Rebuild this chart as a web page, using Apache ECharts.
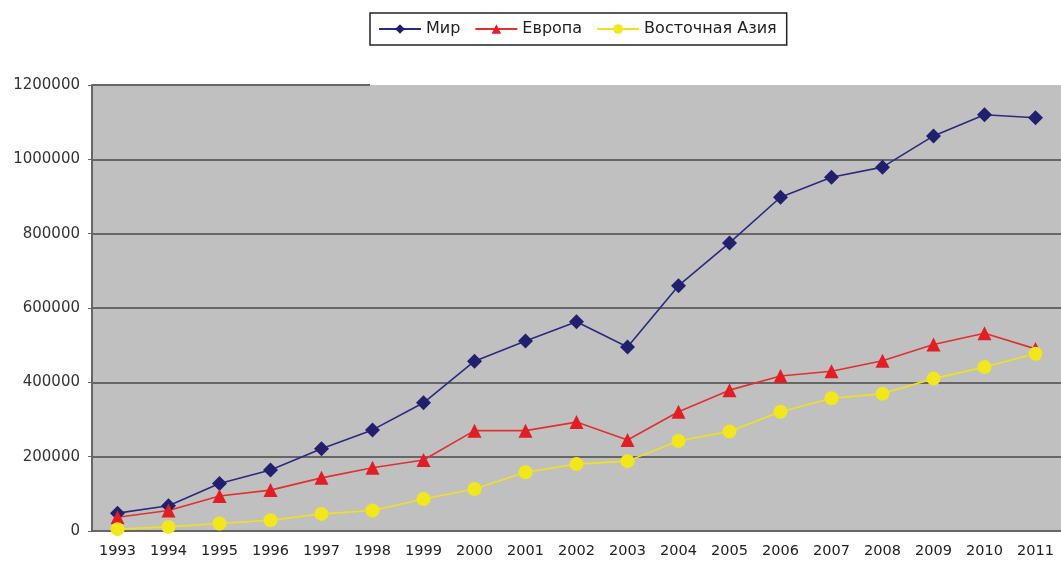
<!DOCTYPE html>
<html>
<head>
<meta charset="utf-8" />
<title>Мир / Европа / Восточная Азия</title>
<script src="https://cdn.jsdelivr.net/npm/echarts@6/dist/echarts.min.js"></script>
<style>
  html, body { margin: 0; padding: 0; background: #fff; }
  #chart { width: 1061px; height: 564px; }
</style>
</head>
<body>
<div id="chart"></div>
<script>
// годы
var years = ['1993', '1994', '1995', '1996', '1997', '1998', '1999', '2000', '2001', '2002',
  '2003', '2004', '2005', '2006', '2007', '2008', '2009', '2010', '2011'];

// значения по рядам
var mir = [48000, 68000, 128000, 164000, 221000, 272000, 345000, 457000, 511000, 563000,
  495000, 660000, 775000, 898000, 952000, 979000, 1063000, 1120000, 1112000];
var evropa = [37000, 55000, 94000, 110000, 143000, 170000, 191000, 270000, 270000, 293000,
  245000, 321000, 379000, 417000, 430000, 458000, 502000, 532000, 490000];
var vostAziya = [5000, 11000, 20000, 29000, 46000, 55000, 86000, 113000, 158000, 180000,
  188000, 242000, 268000, 321000, 357000, 369000, 410000, 441000, 477000];

var yTicks = [0, 200000, 400000, 600000, 800000, 1000000, 1200000];

var font = '"DejaVu Sans", Verdana, sans-serif';
var chart = echarts.init(document.getElementById('chart'));

var option = {
  animation: false,
  legend: {
    left: 370,
    top: 13,
    padding: [8, 10, 8, 8],
    itemGap: 14,
    itemWidth: 42,
    itemHeight: 12,
    borderColor: '#222',
    borderWidth: 1.5,
    backgroundColor: '#fff',
    textStyle: { fontFamily: font, fontSize: 16, color: '#222' },
    data: ['Мир', 'Европа', 'Восточная Азия']
  },
  grid: {
    left: 92,
    top: 85,
    bottom: 33,
    right: -6,
    show: true,
    backgroundColor: '#c0c0c0',
    borderWidth: 0
  },
  xAxis: {
    type: 'category',
    data: years,
    boundaryGap: true,
    axisLine: { lineStyle: { color: '#666', width: 2 } },
    axisTick: { length: 4, lineStyle: { color: '#666', width: 1 } },
    axisLabel: { fontFamily: font, fontSize: 14.5, color: '#222', margin: 13 }
  },
  yAxis: {
    type: 'value',
    min: yTicks[0],
    max: yTicks[yTicks.length - 1],
    interval: 200000,
    axisLine: { show: true, lineStyle: { color: '#666', width: 2 } },
    axisTick: { show: true, length: 4, lineStyle: { color: '#666', width: 1 } },
    axisLabel: {
      fontFamily: font, fontSize: 15, color: '#333', margin: 12,
      formatter: function (v) { return String(v); }
    },
    splitLine: {
      show: true,
      lineStyle: {
        width: 2,
        // верхняя линия сетки рисуется отдельно (только частично)
        color: ['transparent', '#666', '#666', '#666', '#666', '#666', 'transparent']
      }
    }
  },
  series: [
    {
      name: 'Мир',
      type: 'line',
      data: mir,
      symbol: 'diamond',
      symbolSize: 15,
      lineStyle: { color: '#2a2a80', width: 1.6 },
      itemStyle: { color: '#20206e' },
      markLine: {
        silent: true,
        symbol: 'none',
        label: { show: false },
        lineStyle: { color: '#666', width: 2, type: 'solid' },
        data: [[{ x: 92, y: 85 }, { x: 370, y: 85 }]]
      }
    },
    {
      name: 'Европа',
      type: 'line',
      data: evropa,
      symbol: 'triangle',
      symbolSize: 14,
      lineStyle: { color: '#e03030', width: 1.6 },
      itemStyle: { color: '#e01e24' }
    },
    {
      name: 'Восточная Азия',
      type: 'line',
      data: vostAziya,
      symbol: 'circle',
      symbolSize: 14,
      lineStyle: { color: '#f0e020', width: 1.6 },
      itemStyle: { color: '#f2e61c' }
    }
  ]
};

chart.setOption(option);
</script>
</body>
</html>
